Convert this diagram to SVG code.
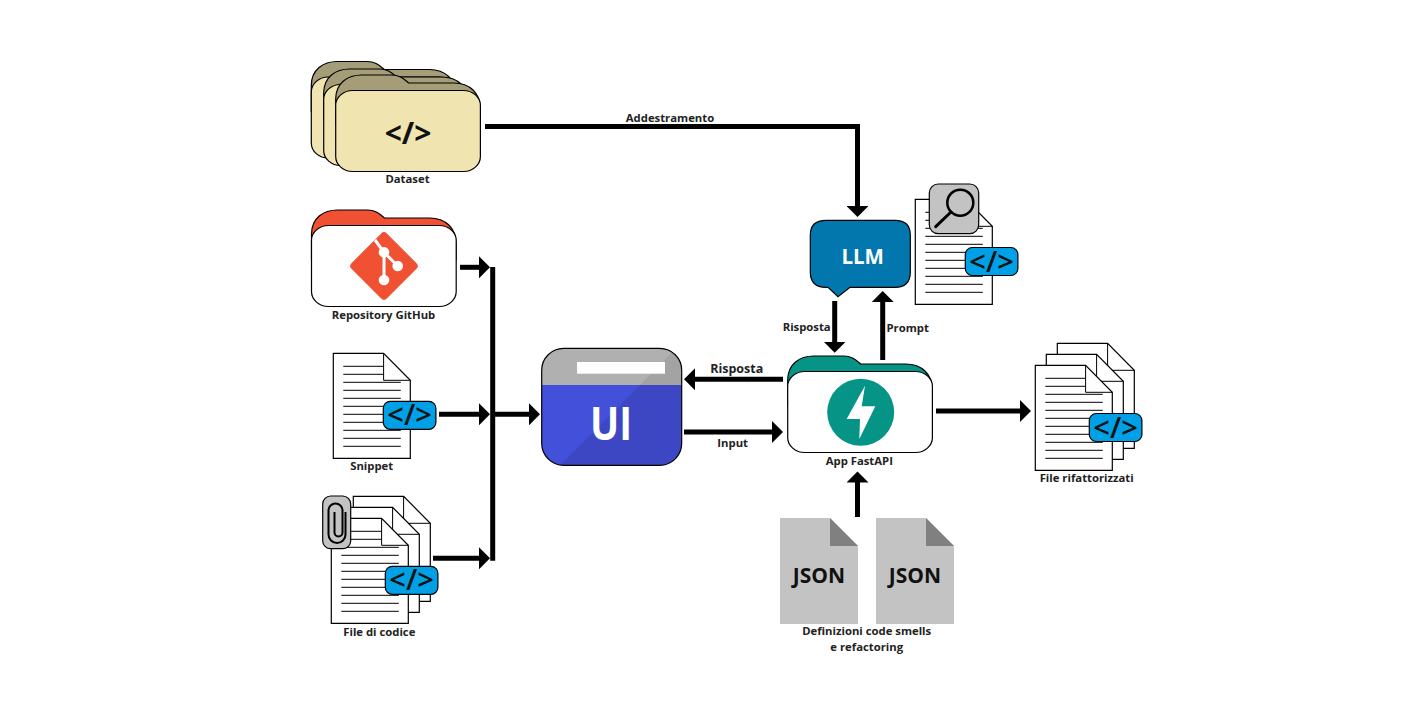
<svg xmlns="http://www.w3.org/2000/svg" xmlns:xlink="http://www.w3.org/1999/xlink" width="1427" height="706" viewBox="0 0 1427 706">
<style>
text{font-family:"Open Sans","Noto Sans","Liberation Sans",sans-serif;font-weight:700;text-anchor:middle}
.lbl{font-size:11.3px;fill:#222}
.lbl2{font-size:12.5px;fill:#222}
.conn{fill:none;stroke:#000;stroke-width:5}
.ln{stroke:#000;stroke-width:1;fill:none}
.ol{stroke:#000;stroke-width:1.2}
.chip{font-size:29px;font-weight:600;fill:#111}
</style>
<defs>
<marker id="ah" markerUnits="userSpaceOnUse" markerWidth="12" markerHeight="22" refX="2" refY="11" orient="auto"><path d="M0,0L11,11L0,22Z" fill="#000"/></marker>
<path id="fback" d="M0,24C0,8 12,0 26,0H56C64,0 68,4 73,8H118C134,8 144.7,18 144.7,34V50H0Z"/>
<rect id="fbody" x="0" y="15.5" width="144.7" height="81" rx="17" ry="15"/>
<path id="page" class="ol" fill="#fff" d="M0,0H50.3L77,27V105H0Z"/>
<path id="fold" class="ln" d="M50.3,0V27H77"/>
<g id="doc">
<use href="#page"/>
<use href="#fold"/>
<path class="ln" d="M10,13H50M10,21H50M10,29H67.5M10,37H67.5M10,45H67.5M10,53H67.5M10,61H67.5M10,69H67.5M10,77H67.5M10,85H67.5M10,93H67.5"/>
</g>
<g id="stack">
<use href="#page" x="22" y="-22"/><use href="#fold" x="22" y="-22"/>
<use href="#page" x="11" y="-11"/><use href="#fold" x="11" y="-11"/>
<use href="#doc"/>
</g>
<g id="chip">
<rect class="ol" width="52.6" height="28" rx="7" fill="#00a0e6"/>
<text class="chip" x="26.3" y="24">&lt;/&gt;</text>
</g>
<g id="json">
<path fill="#c3c3c3" d="M0,0H50L78,28V106H0Z"/>
<path fill="#808080" d="M50,0L78,28H50Z"/>
<text x="39" y="64.7" font-size="21" fill="#111">JSON</text>
</g>
</defs>
<rect width="1427" height="706" fill="#fff"/>

<g id="connectors" class="conn">
<path marker-end="url(#ah)" d="M485,126.5H857.5V208"/>
<path marker-end="url(#ah)" d="M460,267.3H481"/>
<path marker-end="url(#ah)" d="M439,414.3H481"/>
<path marker-end="url(#ah)" d="M433,558.3H481"/>
<path d="M492.7,267V560.8"/>
<path marker-end="url(#ah)" d="M495,414.3H531"/>
<path marker-end="url(#ah)" d="M783,379.3H693"/>
<path marker-end="url(#ah)" d="M684,432H774"/>
<path marker-end="url(#ah)" d="M834.7,301V343.7"/>
<path marker-end="url(#ah)" d="M882.7,360V300"/>
<path marker-end="url(#ah)" d="M936,411H1022"/>
<path marker-end="url(#ah)" d="M857.5,517V480.5"/>
</g>

<g id="dataset">
<g transform="translate(311.3,61.5)"><use href="#fback" fill="#a59d77" class="ol"/><use href="#fbody" fill="#f0e4b0" class="ol"/></g>
<g transform="translate(323.7,69)"><use href="#fback" fill="#a59d77" class="ol"/><use href="#fbody" fill="#f0e4b0" class="ol"/></g>
<g transform="translate(335.7,75)"><use href="#fback" fill="#a59d77" class="ol"/><use href="#fbody" fill="#f0e4b0" class="ol"/></g>
<text x="408" y="144" font-size="30" font-weight="600" fill="#111">&lt;/&gt;</text>
<text class="lbl" x="407.5" y="182.5">Dataset</text>
</g>

<g id="repository">
<g transform="translate(311.5,210)"><use href="#fback" fill="#f05133" class="ol"/><use href="#fbody" fill="#fff" class="ol"/></g>
<rect x="359" y="241" width="50" height="50" rx="4" fill="#f05133" transform="rotate(45 384 266)"/>
<path d="M375,240L384,252.3V280M384,252.3L397.7,266" fill="none" stroke="#fff" stroke-width="3"/>
<circle cx="384" cy="252.3" r="5.3" fill="#fff"/><circle cx="397.7" cy="266" r="5.3" fill="#fff"/><circle cx="384" cy="280" r="5.3" fill="#fff"/>
<text class="lbl" x="383.5" y="318.5">Repository GitHub</text>
</g>

<g id="snippet">
<use href="#doc" x="333.3" y="353.3"/>
<use href="#chip" x="383.3" y="401.3"/>
<text class="lbl" x="371.7" y="469.5">Snippet</text>
</g>

<g id="file-codice">
<use href="#stack" x="331.3" y="518.3"/>
<use href="#chip" x="385.3" y="566.3"/>
<rect class="ol" x="322.7" y="496" width="28" height="52.7" rx="8" fill="#c3c3c3"/>
<path d="M345.5,512V534.5A8.5,8.5 0 0 1 328.5,534.5V510.5A7,7 0 0 1 342.5,510.5V532.5A4,4 0 0 1 334.5,532.5V512" fill="none" stroke="#000" stroke-width="2"/>
<text class="lbl" x="379.3" y="635.5">File di codice</text>
</g>

<g id="ui">
<clipPath id="uic"><rect x="541.7" y="348.3" width="140" height="117" rx="22"/></clipPath>
<g clip-path="url(#uic)">
<rect x="541.7" y="348.3" width="140" height="37" fill="#a3a3a3"/>
<rect x="541.7" y="385" width="140" height="81" fill="#3d47c4"/>
<path d="M541.7,348.3H676L640,385H541.7Z" fill="#b0b0b0"/>
<path d="M541.7,385H640L560,465.3H541.7Z" fill="#4350da"/>
</g>
<rect x="541.7" y="348.3" width="140" height="117" rx="22" fill="none" class="ol" stroke="#000"/>
<rect x="577" y="362" width="88" height="11.7" fill="#fff"/>
<text x="611" y="440" font-size="46" fill="#fff" textLength="42" lengthAdjust="spacingAndGlyphs">UI</text>
</g>

<g id="fastapi">
<g transform="translate(787.7,356)"><use href="#fback" fill="#059485" class="ol"/><use href="#fbody" fill="#fff" class="ol"/></g>
<circle cx="860.7" cy="412.3" r="33.5" fill="#059485"/>
<path d="M865,385.7L846.7,419H860L859.3,439L875.3,406.3H861.7Z" fill="#fff"/>
<text class="lbl" x="859.3" y="465">App FastAPI</text>
</g>

<g id="llm">
<path class="ol" fill="#0277ad" d="M826,220.3H895Q910.3,220.3 910.3,235V272Q910.3,287.3 895,287.3H850L838,296.7L828,287.3H826Q810.3,287.3 810.3,272V235Q810.3,220.3 826,220.3Z"/>
<text x="862.7" y="263.5" font-size="20.5" fill="#fff">LLM</text>
</g>

<g id="prompt-doc">
<use href="#doc" x="915.3" y="199.3"/>
<rect class="ol" x="929.3" y="184" width="49.4" height="49.7" rx="9" fill="#c3c3c3"/>
<circle cx="960.3" cy="202.7" r="13" fill="none" stroke="#000" stroke-width="2.5"/>
<path d="M951,212L935.7,226.7" stroke="#000" stroke-width="3" stroke-linecap="round"/>
<use href="#chip" x="965.3" y="247.5"/>
</g>

<g id="json-defs">
<use href="#json" x="780" y="518"/>
<use href="#json" x="876" y="518"/>
<text class="lbl" x="866.7" y="634.5">Definizioni code smells</text>
<text class="lbl" x="866.7" y="651">e refactoring</text>
</g>

<g id="refactored">
<use href="#stack" x="1035.3" y="365.3"/>
<use href="#chip" x="1089.3" y="413.5"/>
<text class="lbl" x="1086.7" y="481.5">File rifattorizzati</text>
</g>

<g id="edge-labels">
<text class="lbl" x="670" y="122">Addestramento</text>
<text class="lbl2" x="736.7" y="372.5">Risposta</text>
<text class="lbl" x="732.7" y="446.5">Input</text>
<text class="lbl" x="806.7" y="330.5">Risposta</text>
<text class="lbl" x="907.7" y="331.5">Prompt</text>
</g>
</svg>
